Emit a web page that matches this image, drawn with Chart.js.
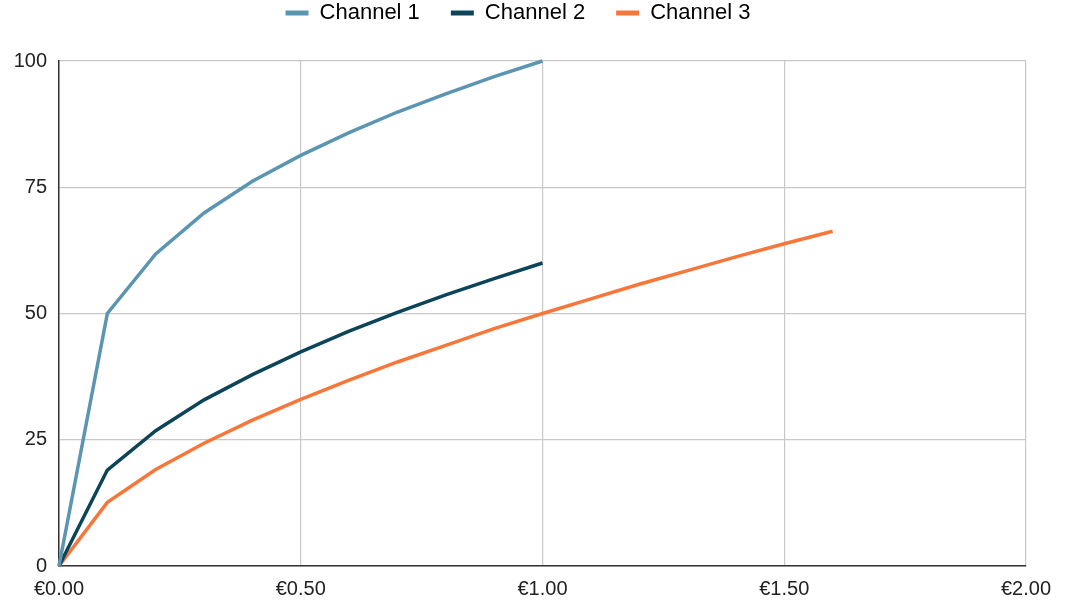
<!DOCTYPE html>
<html>
<head>
<meta charset="utf-8">
<script src="https://cdn.jsdelivr.net/npm/chart.js@4.4.1/dist/chart.umd.min.js"></script>
<style>
  html, body { margin: 0; padding: 0; background: #ffffff; }
  #wrap { width: 1067px; height: 602px; position: relative; }
</style>
</head>
<body>
<div id="wrap"><canvas id="chart"></canvas></div>
<script>
// Price points (EUR) and response values per channel
const priceSteps12 = [0, 0.1, 0.2, 0.3, 0.4, 0.5, 0.6, 0.7, 0.8, 0.9, 1.0];
const channel1 = [0, 50, 61.8, 69.9, 76.2, 81.3, 85.8, 89.9, 93.5, 96.9, 100];
const channel2 = [0, 19, 26.8, 32.9, 37.9, 42.4, 46.5, 50.2, 53.7, 56.9, 60];
const priceSteps3 = [0, 0.1, 0.2, 0.3, 0.4, 0.5, 0.6, 0.7, 0.8, 0.9, 1.0, 1.1, 1.2, 1.3, 1.4, 1.5, 1.6];
const channel3 = [0, 12.6, 19.1, 24.3, 28.9, 33.0, 36.8, 40.4, 43.7, 47.0, 50, 52.9, 55.8, 58.5, 61.2, 63.8, 66.3];
const seriesNames = ['Channel 1', 'Channel 2', 'Channel 3'];
const seriesColors = ['#5a95b2', '#0c4558', '#f7773a'];
const yTicks = [0, 25, 50, 75, 100];

const toPoints = (xs, ys) => xs.map((x, i) => ({ x: x, y: ys[i] }));

const FONT = "'Liberation Sans', Arial, sans-serif";

const datasets = [
  toPoints(priceSteps12, channel1),
  toPoints(priceSteps12, channel2),
  toPoints(priceSteps3, channel3)
].map((pts, i) => ({
  label: seriesNames[i],
  data: pts,
  borderColor: seriesColors[i],
  backgroundColor: seriesColors[i],
  borderWidth: 3.5,
  pointRadius: 0,
  pointHoverRadius: 0,
  tension: 0,
  clip: false
}));

new Chart(document.getElementById('chart'), {
  type: 'line',
  data: { datasets: datasets },
  options: {
    responsive: true,
    maintainAspectRatio: false,
    animation: false,
    layout: { padding: { left: 10, right: 41, top: -29, bottom: 0 } },
    plugins: {
      tooltip: { enabled: false },
      legend: {
        position: 'top',
        align: 'center',
        labels: {
          font: { family: FONT, size: 22 },
          color: '#222222',
          boxWidth: 23,
          boxHeight: 5,
          padding: 31,
          generateLabels: (chart) => chart.data.datasets.map((ds, i) => ({
            text: ds.label,
            fillStyle: ds.borderColor,
            strokeStyle: ds.borderColor,
            lineWidth: 0,
            hidden: false,
            datasetIndex: i
          }))
        }
      },
      // empty spacer between the legend row and the plot area
      title: {
        display: true,
        text: '',
        position: 'top',
        weight: 500,
        font: { size: 1, lineHeight: 1 },
        padding: { top: 13, bottom: 13 }
      }
    },
    scales: {
      x: {
        type: 'linear',
        min: 0,
        max: 2,
        afterFit: (scale) => { scale.height = 36; },
        ticks: {
          stepSize: 0.5,
          padding: 11,
          color: '#222222',
          font: { family: FONT, size: 20 },
          maxRotation: 0,
          callback: (v) => '€' + Number(v).toFixed(2)
        },
        grid: { color: '#c8c8c8', lineWidth: 1.2, drawTicks: false },
        border: { display: true, color: '#333333', width: 1.5 }
      },
      y: {
        type: 'linear',
        min: 0,
        max: 100,
        afterBuildTicks: (scale) => { scale.ticks = yTicks.map(v => ({ value: v })); },
        afterFit: (scale) => { scale.width = 49; },
        ticks: {
          padding: 12,
          color: '#222222',
          font: { family: FONT, size: 20 }
        },
        grid: { color: '#c8c8c8', lineWidth: 1.2, drawTicks: false },
        border: { display: true, color: '#333333', width: 1.5 }
      }
    }
  }
});
</script>
</body>
</html>
